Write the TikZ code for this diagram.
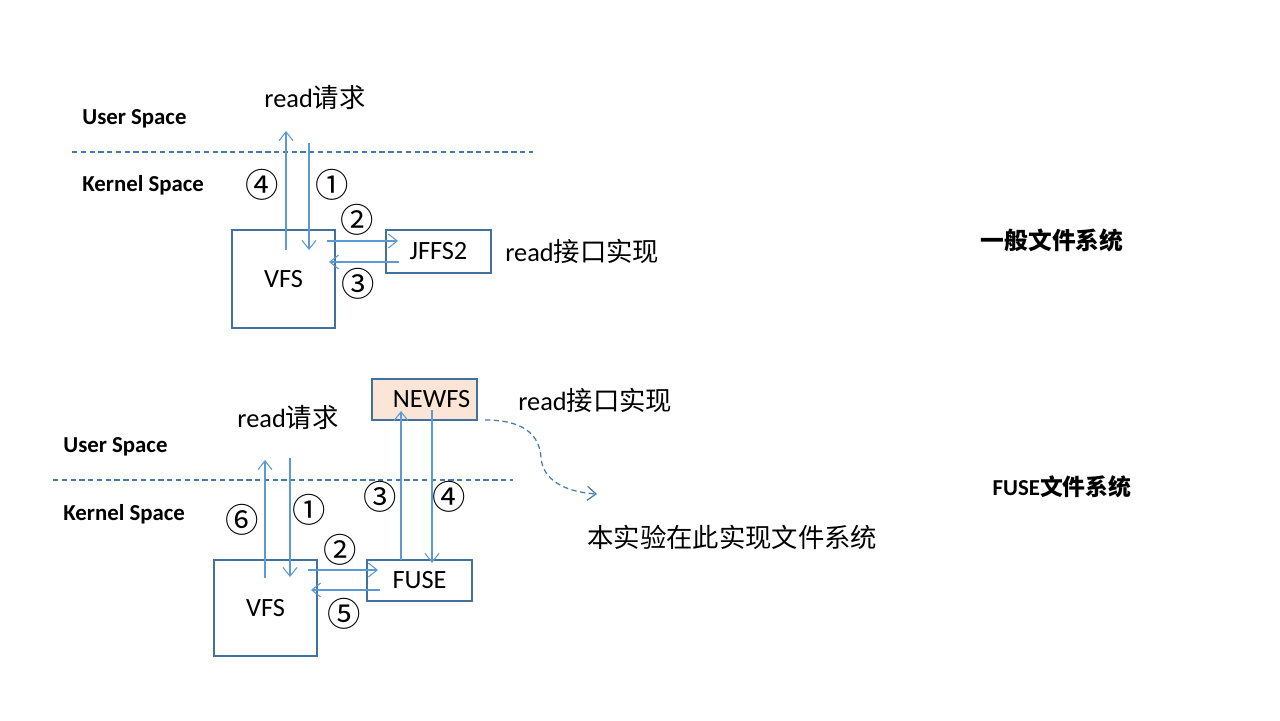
\documentclass[tikz,border=0pt]{standalone}
\usepackage{fontspec}
\setmainfont{Carlito}
\newfontfamily\cjk{Noto Sans CJK SC}
\usetikzlibrary{arrows.meta}
\definecolor{arrowblue}{HTML}{5B9BD5}
\definecolor{boxblue}{HTML}{41719C}
\definecolor{peach}{HTML}{FBE5D6}
\newcommand{\zh}[1]{{\cjk #1}}
\tikzset{
  txt/.style={inner sep=0pt, font=\fontsize{15}{18}\selectfont},
  lbl/.style={inner sep=0pt, font=\fontsize{13}{16}\selectfont\bfseries},
  num/.style={inner sep=0pt, font=\fontsize{19}{22}\selectfont\cjk},
  fsbox/.style={draw=boxblue, line width=0.6pt, inner sep=0pt, font=\fontsize{15}{18}\selectfont},
  flow/.style={draw=arrowblue, line width=0.6pt, -{Straight Barb[length=5pt,width=8pt]}},
  sep/.style={draw=boxblue!80!arrowblue, line width=0.7pt, dash pattern=on 3pt off 2pt},
}
\begin{document}
\begin{tikzpicture}[x=0.02cm,y=-0.02cm]
\useasboundingbox (0,0) rectangle (1280,720);
% ---------- top: general file system ----------
\node[txt] (req1) at (315,98) {read\zh{请求}};
\node[lbl, anchor=west] (us1) at (82,119) {User Space};
\node[lbl, anchor=west] (ks1) at (82,185) {Kernel Space};
\coordinate (s1a) at (72,152);
\coordinate (s1b) at (533,152);
\draw[sep] (s1a) -- (s1b);
\node[fsbox, minimum width=2.06cm, minimum height=1.96cm] (vfs1) at (283.5,279) {VFS};
\node[fsbox, minimum width=2.1cm, minimum height=0.86cm] (jffs) at (438.5,251.5) {JFFS2};
\coordinate (a4s) at (286,250); \coordinate (a4e) at (286,131);
\coordinate (a1s) at (309,143); \coordinate (a1e) at (309,250);
\draw[flow] (a4s) -- (a4e);
\draw[flow] (a1s) -- (a1e);
\coordinate (a2s) at (327,241); \coordinate (a2e) at (398,241);
\coordinate (a3s) at (399,262); \coordinate (a3e) at (329,262);
\draw[flow] (a2s) -- (a2e);
\draw[flow] (a3s) -- (a3e);
\node[num] (n4a) at (262,185) {④};
\node[num] (n1a) at (332,185) {①};
\node[num] (n2a) at (357,220) {②};
\node[num] (n3a) at (358,284) {③};
\node[txt, anchor=west] (impl1) at (505,251) {read\zh{接口实现}};
\node[lbl, font=\fontsize{13.5}{16}\selectfont\cjk\bfseries] (title1) at (1052,240) {一般文件系统};
% ---------- bottom: FUSE ----------
\node[fsbox, fill=peach, minimum width=2.1cm, minimum height=0.82cm] (newfs) at (424.5,399.5) {\hspace{8pt}NEWFS};
\node[txt, anchor=west] (impl2) at (518,400) {read\zh{接口实现}};
\node[txt] (req2) at (288,418) {read\zh{请求}};
\node[lbl, anchor=west] (us2) at (63,447) {User Space};
\node[lbl, anchor=west] (ks2) at (63,514) {Kernel Space};
\coordinate (s2a) at (53,480);
\coordinate (s2b) at (513,480);
\draw[sep] (s2a) -- (s2b);
\node[fsbox, minimum width=2.06cm, minimum height=1.92cm] (vfs2) at (265.5,608) {VFS};
\node[fsbox, minimum width=2.1cm, minimum height=0.82cm] (fuse) at (419.5,580.5) {FUSE};
\coordinate (b6s) at (265,578); \coordinate (b6e) at (265,460);
\coordinate (b1s) at (290,458); \coordinate (b1e) at (290,577);
\draw[flow] (b6s) -- (b6e);
\draw[flow] (b1s) -- (b1e);
\coordinate (b2s) at (308,570); \coordinate (b2e) at (378,570);
\coordinate (b5s) at (380,590); \coordinate (b5e) at (311,590);
\draw[flow] (b2s) -- (b2e);
\draw[flow] (b5s) -- (b5e);
\coordinate (b3s) at (401,560); \coordinate (b3e) at (401,411);
\draw[flow] (b3s) -- (b3e);
\coordinate (b4s) at (432,410); \coordinate (b4e) at (432,563);
\draw[flow] (b4s) -- (b4e);
\node[num] (n6b) at (242,520) {⑥};
\node[num] (n1b) at (309,510) {①};
\node[num] (n2b) at (340,550) {②};
\node[num] (n5b) at (344,614) {⑤};
\node[num] (n3b) at (380,497) {③};
\node[num] (n4b) at (449,497) {④};
\coordinate (cs) at (485,420);
\coordinate (ce) at (597,494);
\draw[sep, -{Straight Barb[length=5pt,width=8pt]}] (cs) .. controls (530,420) and (540,440) .. (541,458) .. controls (543,480) and (565,492) .. (ce);
\node[txt, anchor=west] (note) at (587,537) {\zh{本实验在此实现文件系统}};
\node[lbl] (title2) at (1062,487) {FUSE\zh{文件系统}};
\end{tikzpicture}
\end{document}
